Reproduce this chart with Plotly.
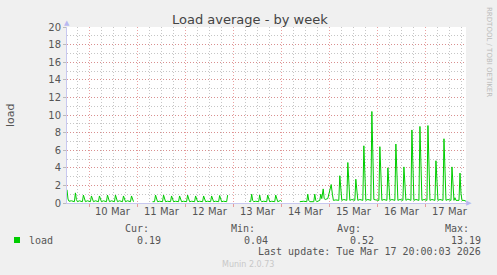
import pandas as pd
import plotly.graph_objects as go

# ---- data (hours since 2026-03-09 00:00, load values; None = no data) ----
hours = [
    12.8, 13.3, 13.8, 15.0, 16.5, 17.0, 17.5, 18.0, 19.0, 20.5, 21.0, 21.5, 22.0, 23.0,
    24.5, 25.0, 25.5, 26.0, 27.0, 28.5, 29.0, 29.5, 30.0, 31.0, 32.5, 33.0, 33.5, 34.0, 35.0,
    36.5, 37.0, 37.5, 38.0, 39.0, 40.5, 41.0, 41.5, 42.0, 43.0, 44.5, 45.0, 45.5, 46.0, 46.5,
    55.5, 56.5, 57.0, 57.5, 58.0, 59.0, 60.5, 61.0, 61.5, 62.0, 63.0, 64.5, 65.0, 65.5, 66.0, 67.0,
    68.5, 69.0, 69.5, 70.0, 71.0, 72.5, 73.0, 73.5, 74.0, 75.0, 76.5, 77.0, 77.5, 78.0, 79.0,
    80.5, 81.0, 81.5, 82.0, 83.0, 84.5, 85.0, 85.5, 86.0, 87.0, 88.5, 89.0, 89.5, 90.0, 91.0,
    92.5, 93.0, 93.5,
    103.7, 104.5, 105.0, 105.5, 106.0, 107.0, 108.5, 109.0, 109.5, 110.0, 111.0, 112.5, 113.0,
    113.5, 114.0, 115.0, 116.5, 117.0, 117.5, 118.0, 119.5, 120.0, 120.5,
    129.0, 131.0, 132.5, 133.0, 133.5, 134.0, 136.0, 136.5, 137.0, 137.5, 139.0, 139.5, 140.0,
    140.7, 141.2, 141.7, 143.0, 143.8, 144.7, 145.3, 145.8, 147.0,
    148.5, 149.0, 149.5, 150.0, 151.0, 152.5, 153.0, 153.5, 154.0, 155.0, 156.5, 157.0, 157.5,
    158.0, 159.0, 160.5, 161.0, 161.5, 162.0, 163.0, 164.5, 165.0, 165.5, 166.0, 167.0,
    168.5, 169.0, 169.5, 170.0, 171.0, 172.5, 173.0, 173.5, 174.0, 175.0, 176.5, 177.0, 177.5,
    178.0, 179.0, 180.5, 181.0, 181.5, 182.0, 183.0, 184.5, 185.0, 185.5, 186.0, 187.0,
    188.5, 189.0, 189.5, 190.0, 191.0, 192.5, 193.0, 193.5, 194.0, 195.0, 196.5, 197.0, 197.5,
    198.0, 199.0, 200.5, 201.0, 201.5, 202.0, 203.0, 204.5, 205.0, 205.5, 206.0, 206.5, 207.0,
    208.5, 209.0, 209.5, 210.0, 211.0, 212.0,
]
load = [
    1.5, 0.45, 0.2, 0.25, 0.15, 1.15, 0.4, 0.15, 0.25, 0.15, 0.9, 0.3, 0.15, 0.25,
    0.15, 0.8, 0.3, 0.15, 0.25, 0.15, 0.8, 0.3, 0.15, 0.25, 0.15, 0.9, 0.3, 0.15, 0.25,
    0.15, 0.9, 0.3, 0.15, 0.25, 0.15, 0.8, 0.3, 0.15, 0.25, 0.15, 0.8, 0.3, 0.15, None,
    0.15, 0.15, 0.9, 0.3, 0.15, 0.2, 0.15, 0.9, 0.3, 0.15, 0.2, 0.15, 0.8, 0.3, 0.15, 0.2,
    0.15, 0.8, 0.3, 0.15, 0.2, 0.15, 0.9, 0.3, 0.15, 0.2, 0.15, 0.8, 0.3, 0.15, 0.2,
    0.15, 0.8, 0.3, 0.15, 0.2, 0.15, 0.8, 0.3, 0.15, 0.2, 0.15, 0.85, 0.3, 0.15, 0.2,
    0.15, 0.9, None,
    0.2, 0.15, 1.0, 0.3, 0.15, 0.2, 0.15, 0.9, 0.3, 0.15, 0.2, 0.15, 0.9,
    0.3, 0.15, 0.2, 0.15, 0.9, 0.3, 0.15, 0.3, 0.2, None,
    0.15, 0.2, 0.15, 1.0, 0.3, 0.15, 0.15, 1.0, 0.3, 0.15, 0.3, 1.0, 0.5,
    1.6, 0.5, 0.4, 0.5, 1.2, 2.1, 1.0, 0.3, 0.35,
    0.3, 3.1, 1.0, 0.3, 0.4, 0.3, 4.6, 1.5, 0.3, 0.4, 0.3, 2.7, 0.9,
    0.3, 0.4, 0.3, 6.5, 2.0, 0.3, 0.4, 0.3, 10.4, 3.0, 0.4, 0.35,
    0.3, 6.4, 2.0, 0.3, 0.4, 0.3, 4.0, 1.3, 0.3, 0.4, 0.3, 6.7, 2.0,
    0.3, 0.4, 0.3, 4.1, 1.3, 0.3, 0.45, 0.3, 8.3, 2.5, 0.3, 0.4,
    0.3, 8.7, 2.6, 0.3, 0.4, 0.3, 8.8, 2.6, 0.3, 0.4, 0.3, 4.8, 1.5,
    0.3, 0.4, 0.3, 7.3, 2.2, 0.3, 0.4, 0.3, 4.1, 1.3, 0.3, 0.6, 0.3,
    0.3, 3.4, 1.1, 0.3, 0.3, 0.2,
]

day_label_hours = [36, 60, 84, 108, 132, 156, 180, 204]
day_labels = ["10 Mar", "11 Mar", "12 Mar", "13 Mar", "14 Mar", "15 Mar", "16 Mar", "17 Mar"]
y_ticks = list(range(0, 21, 2))

legend_headers = ["Cur:", "Min:", "Avg:", "Max:"]
legend_values = ["0.19", "0.04", "0.52", "13.19"]

base = pd.Timestamp("2026-03-09 00:00")
times = [base + pd.Timedelta(hours=h) for h in hours]
x_start = base + pd.Timedelta(hours=12.8)
x_end = base + pd.Timedelta(hours=212)

W, H = 497, 275
ML, MR, MT, MB = 67, 31, 27, 72
PW, PH = W - ML - MR, H - MT - MB

def px(x):
    return (x - ML) / PW

def py(y):
    return (H - MB - y) / PH

GREEN = "#00CC00"
MAJ = "rgba(225,120,120,0.7)"
MIN = "rgba(160,160,160,0.6)"
AXIS = "#C8C8F0"
ARROW = "#B8B8F0"
TXT = "#555555"
SANS = "DejaVu Sans"
MONO = "DejaVu Sans Mono"

fig = go.Figure()
fig.add_trace(go.Scatter(x=times, y=load, mode="lines", connectgaps=False,
                         line=dict(color=GREEN, width=1), hoverinfo="skip"))

fig.update_layout(
    width=W, height=H,
    margin=dict(l=ML, r=MR, t=MT, b=MB, pad=0),
    paper_bgcolor="#F0F0F0", plot_bgcolor="#FFFFFF",
    showlegend=False,
    font=dict(family=SANS, size=10, color=TXT),
)
fig.update_xaxes(
    type="date", range=[x_start, x_end],
    tickmode="linear", tick0="2026-03-10", dtick=86400000,
    showticklabels=False,
    showgrid=True, gridcolor=MAJ, griddash="1px,2px", gridwidth=1,
    ticks="outside", ticklen=3, tickcolor=MAJ,
    minor=dict(tickmode="linear", tick0="2026-03-09", dtick=6 * 3600000,
               showgrid=True, gridcolor=MIN, griddash="1px,2px", gridwidth=1),
    showline=True, linecolor=AXIS, linewidth=1, zeroline=False,
    fixedrange=True,
)
fig.update_yaxes(
    range=[0, 20], tickmode="array", tickvals=y_ticks,
    showgrid=True, gridcolor=MAJ, griddash="1px,2px", gridwidth=1,
    ticks="outside", ticklen=3, tickcolor="#BBBBBB",
    tickfont=dict(family=SANS, size=10, color=TXT),
    minor=dict(tickmode="linear", tick0=0, dtick=1,
               showgrid=True, gridcolor=MIN, griddash="1px,2px", gridwidth=1),
    showline=True, linecolor=AXIS, linewidth=1, zeroline=False,
    fixedrange=True,
)

ann = []
# axis arrows
ann.append(dict(x=px(67), y=py(23), xref="paper", yref="paper", text="▲", showarrow=False,
                xanchor="center", yanchor="middle", font=dict(family=SANS, size=7, color=ARROW)))
ann.append(dict(x=px(469), y=py(203), xref="paper", yref="paper", text="▶", showarrow=False,
                xanchor="center", yanchor="middle", font=dict(family=SANS, size=7, color=ARROW)))

for h, lab in zip(day_label_hours, day_labels):
    ann.append(dict(x=base + pd.Timedelta(hours=h), y=py(212), xref="x", yref="paper",
                    text=lab, showarrow=False, xanchor="center", yanchor="middle",
                    font=dict(family=SANS, size=10, color=TXT)))
ann.append(dict(x=px(250), y=py(20), xref="paper", yref="paper", text="Load average - by week",
                showarrow=False, xanchor="center", yanchor="middle",
                font=dict(family=SANS, size=13, color="#444444")))
ann.append(dict(x=px(10), y=py(115), xref="paper", yref="paper", text="load", textangle=-90,
                showarrow=False, xanchor="center", yanchor="middle",
                font=dict(family=SANS, size=11, color=TXT)))
ann.append(dict(x=px(489), y=py(5), xref="paper", yref="paper", text="RRDTOOL / TOBI OETIKER",
                textangle=90, showarrow=False, xanchor="center", yanchor="top",
                font=dict(family=SANS, size=7, color="#BBBBBB")))

# legend
fig.add_shape(type="rect", xref="paper", yref="paper", x0=px(14), x1=px(20), y0=py(243), y1=py(237),
              fillcolor=GREEN, line=dict(width=0))
ann.append(dict(x=px(27), y=py(240), xref="paper", yref="paper", text="load", showarrow=False,
                xanchor="left", yanchor="middle", font=dict(family=MONO, size=10, color=TXT)))
header_right = [151, 257, 363, 471]
value_right = [163, 270, 376, 483]
for hx, hd, vx, vl in zip(header_right, legend_headers, value_right, legend_values):
    ann.append(dict(x=px(hx), y=py(228), xref="paper", yref="paper", text=hd, showarrow=False,
                    xanchor="right", yanchor="middle", font=dict(family=MONO, size=10, color=TXT)))
    ann.append(dict(x=px(vx), y=py(240), xref="paper", yref="paper", text=vl, showarrow=False,
                    xanchor="right", yanchor="middle", font=dict(family=MONO, size=10, color=TXT)))
ann.append(dict(x=px(483), y=py(251), xref="paper", yref="paper",
                text="Last update: Tue Mar 17 20:00:03 2026", showarrow=False,
                xanchor="right", yanchor="middle", font=dict(family=MONO, size=10, color=TXT)))
ann.append(dict(x=px(248), y=py(264), xref="paper", yref="paper", text="Munin 2.0.73",
                showarrow=False, xanchor="center", yanchor="middle",
                font=dict(family=SANS, size=8, color="#C8C8C8")))
fig.update_layout(annotations=ann)

fig.write_html("out.html", config={"displayModeBar": False})
